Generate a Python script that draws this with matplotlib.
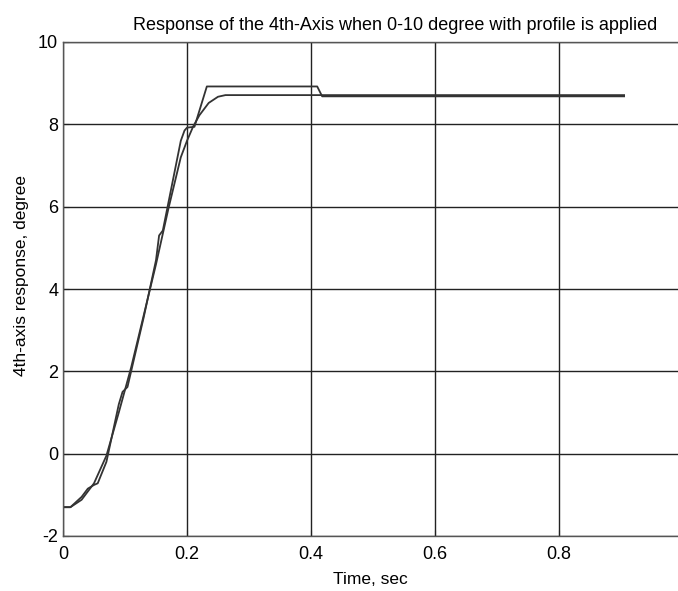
import matplotlib
matplotlib.use("Agg")
import matplotlib.pyplot as plt

# stepped response (with plateau before settling)
t_step = [0, 0.012, 0.03, 0.04, 0.05, 0.056, 0.07, 0.09, 0.096, 0.104, 0.13, 0.15,
          0.155, 0.161, 0.19, 0.196, 0.2, 0.212, 0.232, 0.41, 0.418, 0.905]
y_step = [-1.3, -1.3, -1.05, -0.85, -0.76, -0.72, -0.2, 1.2, 1.5, 1.62, 3.3, 4.7,
          5.3, 5.42, 7.6, 7.85, 7.92, 7.94, 8.92, 8.92, 8.68, 8.68]

# smooth response
t_smooth = [0, 0.012, 0.03, 0.05, 0.07, 0.09, 0.11, 0.13, 0.15, 0.17, 0.19, 0.2,
            0.21, 0.22, 0.235, 0.25, 0.262, 0.905]
y_smooth = [-1.3, -1.3, -1.12, -0.72, -0.05, 1.0, 2.1, 3.35, 4.6, 5.95, 7.2, 7.6,
            7.95, 8.22, 8.52, 8.67, 8.71, 8.71]

x_ticks = [0, 0.2, 0.4, 0.6, 0.8, 1]
x_labels = ["0", "0.2", "0.4", "0.6", "0.8", "1"]
y_ticks = [-2, 0, 2, 4, 6, 8, 10]

plt.rcParams["font.family"] = ["Liberation Sans", "DejaVu Sans"]
plt.rcParams["axes.unicode_minus"] = False

fig = plt.figure(figsize=(6.78, 5.91), dpi=100)
ax = fig.add_axes([63 / 678, 55 / 591, 620 / 678, 494 / 591])

ax.plot(t_smooth, y_smooth, color="#333333", lw=1.3)
ax.plot(t_step, y_step, color="#333333", lw=1.3)

ax.set_xlim(0, 1)
ax.set_ylim(-2, 10)
ax.set_xticks(x_ticks)
ax.set_xticklabels(x_labels)
ax.set_yticks(y_ticks)
ax.grid(True, color="#222222", lw=1.0)
ax.tick_params(direction="in", labelsize=13, length=4, color="#222222")
ax.tick_params(axis="x", pad=7)
for s in ax.spines.values():
    s.set_color("#555555")
    s.set_linewidth(1.0)

ax.set_title("Response of the 4th-Axis when 0-10 degree with profile is applied",
             fontsize=13, pad=9, x=(395 - 63) / 620)
ax.set_xlabel("Time, sec", fontsize=12.5)
ax.set_ylabel("4th-axis response, degree", fontsize=12.5)
ax.xaxis.set_label_coords((370 - 63) / 620, -36 / 494)
ax.yaxis.set_label_coords(-34 / 620, (536 - 275) / 494)

fig.savefig("out.png", dpi=100)
